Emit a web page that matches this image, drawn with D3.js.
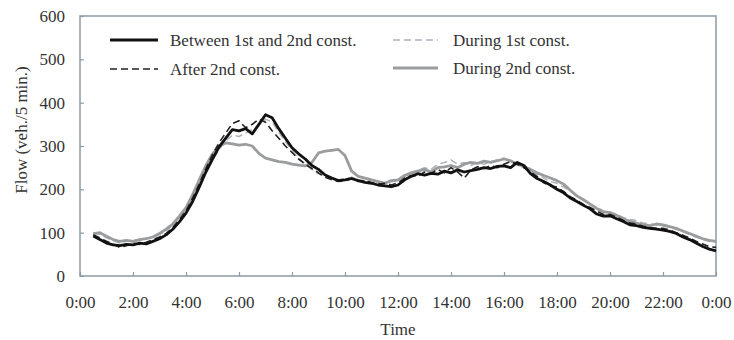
<!DOCTYPE html>
<html><head><meta charset="utf-8">
<script src="https://cdn.jsdelivr.net/npm/d3@7"></script>
<style>
html,body{margin:0;padding:0;background:#fff;}
svg text{font-family:"Liberation Serif","Times New Roman",serif;fill:#333;}
</style></head>
<body><svg id="chart" width="734" height="340"></svg>
<script>
// Time grid: values every 15 min, from 0:30 to 24:00 (95 points)
const startHour = 0.5;
const stepHours = 0.25;
const xTickHours = [0,2,4,6,8,10,12,14,16,18,20,22,24];
const yTickValues = [0,100,200,300,400,500,600];

// Between 1st and 2nd const. (rows = hours)
const between = [
  92, 84,
  76, 72, 70, 73,
  72, 76, 74, 80,
  86, 95, 108, 125,
  145, 172, 205, 240,
  270, 298, 318, 338,
  335, 340, 328, 350,
  372, 365, 340, 318,
  296, 282, 270, 255,
  246, 233, 226, 220,
  222, 225, 220, 216,
  214, 210, 208, 206,
  210, 222, 230, 236,
  233, 237, 235, 242,
  238, 245, 240, 243,
  246, 250, 248, 253,
  254, 250, 262, 255,
  236, 225, 218, 210,
  200, 192, 180, 172,
  163, 155, 143, 138,
  139, 132, 126, 118,
  116, 112, 110, 108,
  106, 103, 98, 90,
  84, 76, 68, 62,
  58
];
// After 2nd const.
const after2nd = [
  95, 88,
  80, 74, 66, 70,
  76, 73, 78, 84,
  90, 98, 112, 130,
  150, 180, 212, 248,
  280, 308, 330, 352,
  358, 342, 350, 362,
  355, 335, 318, 300,
  285, 270, 258, 248,
  238, 228, 222, 218,
  220, 224, 218, 220,
  216, 212, 214, 210,
  215, 226, 232, 230,
  240, 236, 246, 238,
  250, 240, 226, 245,
  252, 248, 255, 250,
  258, 264, 258, 250,
  240, 230, 215, 208,
  205, 195, 183, 175,
  165, 158, 150, 142,
  142, 136, 128, 122,
  120, 115, 112, 110,
  110, 106, 100, 94,
  88, 80, 74, 68,
  66
];
// During 1st const.
const during1st = [
  100, 96,
  88, 82, 76, 80,
  84, 82, 86, 90,
  96, 104, 118, 135,
  155, 182, 210, 240,
  268, 292, 312, 325,
  322, 330, 338, 348,
  362, 355, 332, 310,
  290, 272, 258, 246,
  236, 230, 226, 222,
  225, 228, 222, 220,
  222, 218, 215, 218,
  220, 230, 238, 244,
  250, 246, 258, 262,
  268, 258, 262, 255,
  262, 258, 264, 268,
  272, 264, 258, 250,
  242, 235, 226, 218,
  214, 205, 196, 184,
  175, 165, 158, 150,
  148, 142, 135, 130,
  128, 122, 120, 118,
  116, 112, 108, 102,
  96, 90, 84, 80,
  78
];
// During 2nd const.
const during2nd = [
  98, 100,
  92, 84, 80, 82,
  80, 84, 86, 90,
  98, 108, 120, 138,
  158, 188, 222, 255,
  282, 300, 307, 305,
  302, 304, 300, 283,
  272, 268, 264, 262,
  258, 256, 254, 262,
  284, 288, 290, 292,
  278, 242, 230, 226,
  222, 218, 214, 220,
  222, 232, 238, 242,
  246, 240, 250, 252,
  255, 250, 258, 262,
  260, 265, 262, 266,
  270, 266, 258, 252,
  246, 238, 232, 226,
  220, 212, 198, 185,
  176, 166, 156, 148,
  146, 140, 132, 126,
  122, 118, 116, 120,
  118, 114, 110, 104,
  98, 92, 86, 82,
  80
];

const seriesNames = ["Between 1st and 2nd const.","After 2nd const.","During 1st const.","During 2nd const."];

const svg = d3.select("#chart");
const m = {left:80, top:16, right:716, bottom:276};
const x = d3.scaleLinear().domain([0,24]).range([m.left, m.right]);
const y = d3.scaleLinear().domain([0,600]).range([m.bottom, m.top]);

const styles = {
  "Between 1st and 2nd const.": {color:"#111", width:2.8, dash:null},
  "After 2nd const.": {color:"#222", width:1.6, dash:"7,4"},
  "During 1st const.": {color:"#aeb3b8", width:1.6, dash:"7,4"},
  "During 2nd const.": {color:"#9a9c9e", width:2.8, dash:null}
};
const dataMap = {
  "Between 1st and 2nd const.": between,
  "After 2nd const.": after2nd,
  "During 1st const.": during1st,
  "During 2nd const.": during2nd
};

// frame
svg.append("rect").attr("x",m.left).attr("y",m.top)
  .attr("width",m.right-m.left).attr("height",m.bottom-m.top)
  .attr("fill","none").attr("stroke","#8c9aa6").attr("stroke-width",1.5);

const fmt = h => (h%24) + ":00";
const gx = svg.append("g").attr("transform",`translate(0,${m.bottom})`)
  .call(d3.axisBottom(x).tickValues(xTickHours).tickFormat(fmt).tickSize(-4).tickPadding(20));
const gy = svg.append("g").attr("transform",`translate(${m.left},0)`)
  .call(d3.axisLeft(y).tickValues(yTickValues).tickSize(-4).tickPadding(15));
[gx,gy].forEach(g=>{
  g.select(".domain").remove();
  g.selectAll(".tick line").attr("stroke","#8c9aa6").attr("stroke-width",1.2);
  g.selectAll(".tick text").attr("font-family","Liberation Serif").attr("font-size",17).attr("fill","#333");
});

// lines
const line = d3.line().x((d,i)=>x(startHour + i*stepHours)).y(d=>y(d));
const drawOrder = ["During 1st const.","During 2nd const.","After 2nd const.","Between 1st and 2nd const."];
drawOrder.forEach(name=>{
  const s = styles[name];
  svg.append("path").datum(dataMap[name]).attr("d",line)
    .attr("fill","none").attr("stroke",s.color).attr("stroke-width",s.width)
    .attr("stroke-dasharray",s.dash).attr("stroke-linejoin","round");
});

// legend
const legendPos = [
  {name:seriesNames[0], x1:110, x2:158, y:40, tx:170},
  {name:seriesNames[1], x1:110, x2:158, y:69, tx:170},
  {name:seriesNames[2], x1:393, x2:438, y:40, tx:453},
  {name:seriesNames[3], x1:393, x2:438, y:68, tx:453}
];
legendPos.forEach(l=>{
  const s = styles[l.name];
  svg.append("line").attr("x1",l.x1).attr("x2",l.x2).attr("y1",l.y).attr("y2",l.y)
    .attr("stroke",s.color).attr("stroke-width",s.width).attr("stroke-dasharray",s.dash);
  svg.append("text").attr("x",l.tx).attr("y",l.y+5.5).attr("font-size",17).text(l.name);
});

// axis titles
svg.append("text").attr("x",(m.left+m.right)/2).attr("y",335).attr("text-anchor","middle")
  .attr("font-size",17).text("Time");
svg.append("text").attr("transform","translate(27,130) rotate(-90)").attr("text-anchor","middle")
  .attr("font-size",17).text("Flow (veh./5 min.)");
</script></body></html>
